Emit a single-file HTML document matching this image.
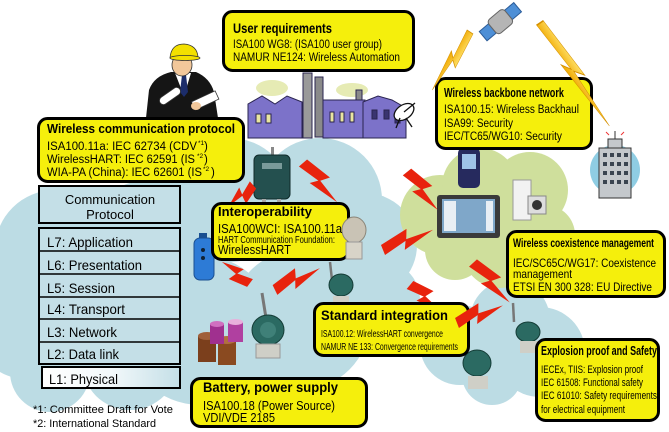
<!DOCTYPE html>
<html><head><meta charset="utf-8">
<style>html,body{margin:0;padding:0;background:#fff;}svg{display:block;}</style>
</head><body>
<svg width="669" height="432" viewBox="0 0 669 432" xmlns="http://www.w3.org/2000/svg" xmlns:xlink="http://www.w3.org/1999/xlink" font-family="'Liberation Sans', Arial, sans-serif">
<defs>
  <path id="bolt" d="M0,-4 L22,-8 L19,-1 L40,0 L15,6 L18,0 L0,4 Z"/>
  <linearGradient id="og" x1="0" y1="0" x2="0" y2="1">
    <stop offset="0" stop-color="#ffe066"/><stop offset="1" stop-color="#f0a800"/>
  </linearGradient>
  <linearGradient id="l1g" x1="0" y1="0" x2="1" y2="0">
    <stop offset="0" stop-color="#ffffff"/><stop offset="0.5" stop-color="#f2f8fa"/><stop offset="1" stop-color="#c4dfe7"/>
  </linearGradient>
</defs>
<rect width="669" height="432" fill="#fff"/>

<!-- big blue cloud -->
<g fill="#bcdce4">
  <circle cx="55" cy="250" r="60"/>
  <circle cx="30" cy="320" r="60"/>
  <circle cx="50" cy="372" r="40"/>
  <circle cx="150" cy="250" r="70"/>
  <circle cx="230" cy="200" r="62"/>
  <circle cx="320" cy="200" r="62"/>
  <circle cx="365" cy="245" r="52"/>
  <circle cx="380" cy="300" r="40"/>
  <circle cx="300" cy="320" r="70"/>
  <circle cx="200" cy="330" r="75"/>
  <circle cx="130" cy="362" r="48"/>
  <circle cx="250" cy="370" r="40"/>
</g>
<!-- small blue cloud -->
<g fill="#bcdce4">
  <circle cx="460" cy="345" r="40"/>
  <circle cx="510" cy="320" r="40"/>
  <circle cx="540" cy="352" r="45"/>
  <circle cx="492" cy="375" r="30"/>
</g>
<!-- green cloud -->
<g fill="#cfdf9c">
  <circle cx="440" cy="215" r="40"/>
  <circle cx="480" cy="186" r="38"/>
  <circle cx="530" cy="190" r="38"/>
  <circle cx="545" cy="235" r="30"/>
  <circle cx="500" cy="250" r="38"/>
  <circle cx="455" cy="250" r="30"/>
  <circle cx="490" cy="215" r="40"/>
</g>

<!-- factory -->
<g stroke="#2a2450" stroke-width="1">
  <ellipse cx="272" cy="88" rx="16" ry="8" fill="#e6ebb4" stroke="none"/>
  <ellipse cx="352" cy="90" rx="16" ry="7" fill="#e6ebb4" stroke="none"/>
  <rect x="303" y="73" width="9" height="65" fill="#9a9a9a"/>
  <rect x="315" y="77" width="8" height="60" fill="#8a8a8a"/>
  <rect x="356" y="90" width="6" height="30" fill="#8a8a8a"/>
  <polygon points="248,138 248,104 262,96 275,104 287,96 302,102 302,138" fill="#7c72c9"/>
  <rect x="323" y="100" width="42" height="38" fill="#7c72c9"/>
  <polygon points="363,138 363,102 378,96 392,100 406,108 406,138" fill="#7c72c9"/>
  <rect x="256" y="114" width="5" height="9" fill="#e9e6a0"/>
  <rect x="266" y="114" width="5" height="9" fill="#e9e6a0"/>
  <rect x="330" y="112" width="4" height="10" fill="#e9e6a0"/>
  <rect x="340" y="112" width="4" height="10" fill="#e9e6a0"/>
  <rect x="350" y="112" width="4" height="10" fill="#e9e6a0"/>
  <rect x="372" y="110" width="5" height="9" fill="#3a3470"/>
  <rect x="384" y="110" width="5" height="9" fill="#3a3470"/>
  <rect x="395" y="114" width="5" height="9" fill="#3a3470"/>
</g>
<!-- dish -->
<g stroke="#111" stroke-width="1.3" fill="#fff">
  <ellipse cx="404" cy="112" rx="11" ry="7" transform="rotate(-35 404 112)"/>
  <line x1="404" y1="112" x2="415" y2="103"/>
  <line x1="400" y1="118" x2="396" y2="128"/>
  <line x1="406" y1="118" x2="412" y2="127"/>
</g>

<!-- man -->
<g>
  <path d="M146,118 L149,90 Q154,76 171,72 L196,72 Q210,78 214,92 L218,118 Z" fill="#151515"/>
  <polygon points="175,73 191,73 184,96" fill="#fff"/>
  <polygon points="182,75 186,75 188,92 184,97 180,92" fill="#1c2d6b"/>
  <ellipse cx="182" cy="65" rx="10" ry="11" fill="#f2c79a" stroke="#333" stroke-width="0.8"/>
  <path d="M170,58 Q171,44 184,44 Q197,45 198,57 Z" fill="#f3e000" stroke="#333" stroke-width="0.8"/>
  <ellipse cx="185" cy="58" rx="15" ry="2.5" fill="#f3e000" stroke="#333" stroke-width="0.8"/>
  <rect x="158" y="92" width="24" height="8" rx="4" fill="#fff" stroke="#333" stroke-width="0.8" transform="rotate(-35 170 96)"/>
  <rect x="192" y="96" width="26" height="9" fill="#fff" stroke="#333" stroke-width="0.8" transform="rotate(-25 205 100)"/>
  <ellipse cx="196" cy="106" rx="5" ry="4" fill="#f2c79a"/>
</g>

<!-- satellite -->
<g transform="rotate(-40 500 22)">
  <rect x="478" y="16" width="12" height="12" fill="#4e8fd6" stroke="#2b5c99"/>
  <rect x="511" y="16" width="12" height="12" fill="#4e8fd6" stroke="#2b5c99"/>
  <rect x="490" y="13" width="21" height="18" rx="4" fill="#b5b5b5" stroke="#666"/>
</g>

<!-- building -->
<g>
  <circle cx="615" cy="170" r="25" fill="#8fcde3"/>
  <rect x="608" y="139" width="14" height="10" fill="#c4c8cc" stroke="#333"/>
  <rect x="599" y="148" width="32" height="50" fill="#c4c8cc" stroke="#333"/>
  <line x1="615" y1="131" x2="615" y2="139" stroke="#333"/>
  <g fill="#3a4450">
    <rect x="603" y="153" width="4" height="4"/><rect x="610" y="153" width="4" height="4"/><rect x="617" y="153" width="4" height="4"/><rect x="624" y="153" width="4" height="4"/>
    <rect x="603" y="162" width="4" height="4"/><rect x="610" y="162" width="4" height="4"/><rect x="617" y="162" width="4" height="4"/><rect x="624" y="162" width="4" height="4"/>
    <rect x="603" y="171" width="4" height="4"/><rect x="610" y="171" width="4" height="4"/><rect x="617" y="171" width="4" height="4"/><rect x="624" y="171" width="4" height="4"/>
    <rect x="603" y="180" width="4" height="4"/><rect x="610" y="180" width="4" height="4"/><rect x="617" y="180" width="4" height="4"/><rect x="624" y="180" width="4" height="4"/>
  </g>
  <g stroke="#e33" stroke-width="1"><line x1="606" y1="132" x2="609" y2="135"/><line x1="624" y1="132" x2="621" y2="135"/></g>
</g>

<!-- devices -->
<g>
  <rect x="271" y="147" width="3" height="9" fill="#888"/>
  <rect x="254" y="155" width="36" height="44" rx="5" fill="#24504f" stroke="#0f2a2a"/>
  <rect x="262" y="163" width="20" height="6" fill="#7a9a9a"/>
  <rect x="262" y="199" width="4" height="8" fill="#aaa"/>
  <rect x="277" y="199" width="4" height="8" fill="#aaa"/>
  <rect x="199" y="233" width="8" height="7" fill="#1a4f90"/>
  <rect x="194" y="238" width="20" height="42" rx="6" fill="#2d7bd6" stroke="#1a4f90"/>
  <circle cx="203" cy="250" r="2" fill="#123"/><circle cx="203" cy="258" r="2" fill="#123"/>
  <rect x="458" y="148" width="22" height="40" rx="5" fill="#262a5e"/>
  <rect x="462" y="154" width="14" height="15" fill="#9fc3e8"/>
  <rect x="437" y="195" width="63" height="43" rx="3" fill="#3a3a3a"/>
  <rect x="442" y="199" width="53" height="34" fill="#7fa7c9"/>
  <rect x="444" y="201" width="12" height="30" fill="#e8eef4"/>
  <rect x="486" y="201" width="7" height="30" fill="#e8eef4"/>
  <rect x="513" y="180" width="18" height="40" fill="#f2f2f2" stroke="#999"/>
  <rect x="528" y="196" width="18" height="18" fill="#ddd" stroke="#888"/>
  <circle cx="537" cy="205" r="5" fill="#333"/>
  <rect x="198" y="336" width="18" height="26" fill="#7b3f1c"/>
  <ellipse cx="207" cy="336" rx="9" ry="4" fill="#a0603a"/>
  <rect x="218" y="340" width="18" height="25" fill="#8a4a20"/>
  <ellipse cx="227" cy="340" rx="9" ry="4" fill="#b07040"/>
  <rect x="210" y="324" width="14" height="20" fill="#a0308f"/>
  <ellipse cx="217" cy="324" rx="7" ry="3" fill="#d070c0"/>
  <rect x="228" y="322" width="15" height="20" fill="#b040a0"/>
  <ellipse cx="235.5" cy="322" rx="7.5" ry="3" fill="#e8b0dc"/>
  <line x1="262" y1="293" x2="266" y2="318" stroke="#777" stroke-width="3"/>
  <ellipse cx="268" cy="330" rx="16" ry="15" fill="#2b6a62" stroke="#143c36"/>
  <circle cx="268" cy="330" r="8" fill="#3f8078"/>
  <rect x="256" y="344" width="24" height="14" fill="#cfcfc7" stroke="#999"/>
  <line x1="330" y1="262" x2="332" y2="280" stroke="#777" stroke-width="2.5"/>
  <ellipse cx="341" cy="285" rx="12" ry="11" fill="#2b6a62" stroke="#143c36"/>
  <rect x="333" y="296" width="16" height="10" fill="#cfcfc7"/>
  <line x1="463" y1="332" x2="465" y2="356" stroke="#777" stroke-width="2.5"/>
  <ellipse cx="477" cy="363" rx="14" ry="13" fill="#2b6a62" stroke="#143c36"/>
  <rect x="468" y="376" width="20" height="13" fill="#cfcfc7"/>
  <line x1="513" y1="303" x2="514" y2="322" stroke="#777" stroke-width="2.5"/>
  <ellipse cx="528" cy="332" rx="12" ry="10" fill="#2b6a62" stroke="#143c36"/>
  <rect x="520" y="341" width="18" height="12" fill="#cfcfc7"/>
</g>

<!-- red bolts (behind boxes) -->
<g fill="#e8230d">
  <use xlink:href="#bolt" href="#bolt" transform="translate(253,185) rotate(139) scale(0.8,1.2)"/>
  <use xlink:href="#bolt" href="#bolt" transform="translate(303,163) rotate(49) scale(1.3,1.35)"/>
  <use xlink:href="#bolt" href="#bolt" transform="translate(250,283) rotate(217) scale(0.88,1.2)"/>
  <use xlink:href="#bolt" href="#bolt" transform="translate(275,290) rotate(-26) scale(1.25,1.35)"/>
  <use xlink:href="#bolt" href="#bolt" transform="translate(407,172) rotate(51) scale(1.22,1.35)"/>
  <use xlink:href="#bolt" href="#bolt" transform="translate(383,250) rotate(-22) scale(1.35,1.35)"/>
  <use xlink:href="#bolt" href="#bolt" transform="translate(473,263) rotate(47) scale(1.35,1.35)"/>
  <use xlink:href="#bolt" href="#bolt" transform="translate(410,285) rotate(40) scale(1,1.3)"/>
</g>

<!-- yellow boxes -->
<g fill="#f5ef0c" stroke="#000" stroke-width="3">
  <rect x="223.5" y="11.5" width="190" height="59" rx="9"/>
  <rect x="38.5" y="118.5" width="205" height="63" rx="9"/>
  <rect x="436.5" y="78.5" width="155" height="70" rx="9"/>
  <rect x="212.5" y="203.5" width="136" height="56" rx="9"/>
  <rect x="314.5" y="303.5" width="154" height="52" rx="9"/>
  <rect x="191.5" y="378.5" width="175" height="48" rx="9"/>
  <rect x="507.5" y="231.5" width="157" height="65" rx="9"/>
  <rect x="536.5" y="339.5" width="122" height="81" rx="9"/>
</g>

<g>
  <ellipse cx="354" cy="230" rx="12" ry="13" fill="#c9c3b5" stroke="#8a8578"/>
  <rect x="346" y="242" width="16" height="17" fill="#d8d4c8" stroke="#999"/>
</g>

<use xlink:href="#bolt" href="#bolt" fill="#e8230d" transform="translate(457,323) rotate(-21) scale(1.23,1.35)"/>
<use xlink:href="#bolt" href="#bolt" fill="url(#og)" stroke="#d49000" stroke-width="0.5" transform="translate(470,32) rotate(123) scale(1.73,0.9)"/>
<use xlink:href="#bolt" href="#bolt" fill="url(#og)" stroke="#d49000" stroke-width="0.5" transform="translate(540,23) rotate(56) scale(3.1,1.0)"/>

<!-- OSI table -->
<g stroke="#000" stroke-width="2">
  <rect x="39" y="186" width="141" height="37" fill="#c4dfe7"/>
  <rect x="39" y="228" width="141" height="136" fill="#c4dfe7"/>
  <line x1="39" y1="251" x2="180" y2="251" stroke-width="1.5"/>
  <line x1="39" y1="274" x2="180" y2="274" stroke-width="1.5"/>
  <line x1="39" y1="297" x2="180" y2="297" stroke-width="1.5"/>
  <line x1="39" y1="319" x2="180" y2="319" stroke-width="1.5"/>
  <line x1="39" y1="342" x2="180" y2="342" stroke-width="1.5"/>
  <rect x="42" y="367" width="138" height="21" fill="url(#l1g)"/>
</g>

<!-- texts -->
<g fill="#000">
  <text x="233" y="33" font-size="14" font-weight="bold" textLength="99" lengthAdjust="spacingAndGlyphs">User requirements</text>
  <text x="233" y="48" font-size="11.5" textLength="149" lengthAdjust="spacingAndGlyphs">ISA100 WG8: (ISA100 user group)</text>
  <text x="233" y="61" font-size="11.5" textLength="167" lengthAdjust="spacingAndGlyphs">NAMUR NE124: Wireless Automation</text>

  <text x="47" y="133" font-size="13" font-weight="bold" textLength="188" lengthAdjust="spacingAndGlyphs">Wireless communication protocol</text>
  <text x="47" y="150" font-size="11.5" textLength="150" lengthAdjust="spacingAndGlyphs">ISA100.11a: IEC 62734 (CDV</text>
  <text x="198" y="145" font-size="6.5">*1</text>
  <text x="204" y="150" font-size="11.5">)</text>
  <text x="47" y="163" font-size="11.5" textLength="148" lengthAdjust="spacingAndGlyphs">WirelessHART: IEC 62591 (IS</text>
  <text x="197" y="158" font-size="6.5">*2</text>
  <text x="204" y="163" font-size="11.5">)</text>
  <text x="47" y="176" font-size="11.5" textLength="155" lengthAdjust="spacingAndGlyphs">WIA-PA (China): IEC 62601 (IS</text>
  <text x="203" y="171" font-size="6.5">*2</text>
  <text x="211" y="176" font-size="11.5">)</text>

  <text x="444" y="97" font-size="13" font-weight="bold" textLength="120" lengthAdjust="spacingAndGlyphs">Wireless backbone network</text>
  <text x="444" y="113" font-size="11.5" textLength="135" lengthAdjust="spacingAndGlyphs">ISA100.15: Wireless Backhaul</text>
  <text x="444" y="127" font-size="11.5" textLength="69" lengthAdjust="spacingAndGlyphs">ISA99: Security</text>
  <text x="444" y="140" font-size="11.5" textLength="118" lengthAdjust="spacingAndGlyphs">IEC/TC65/WG10: Security</text>

  <text x="110" y="204" font-size="13" text-anchor="middle">Communication</text>
  <text x="110" y="219" font-size="13" text-anchor="middle">Protocol</text>
  <text x="47" y="247" font-size="14" textLength="86" lengthAdjust="spacingAndGlyphs">L7: Application</text>
  <text x="47" y="270" font-size="14" textLength="95" lengthAdjust="spacingAndGlyphs">L6: Presentation</text>
  <text x="47" y="293" font-size="14" textLength="68" lengthAdjust="spacingAndGlyphs">L5: Session</text>
  <text x="47" y="314" font-size="14" textLength="78" lengthAdjust="spacingAndGlyphs">L4: Transport</text>
  <text x="47" y="337" font-size="14" textLength="70" lengthAdjust="spacingAndGlyphs">L3: Network</text>
  <text x="47" y="359" font-size="14" textLength="72" lengthAdjust="spacingAndGlyphs">L2: Data link</text>
  <text x="49" y="384" font-size="14" textLength="69" lengthAdjust="spacingAndGlyphs">L1: Physical</text>

  <text x="33" y="413" font-size="11" textLength="140" lengthAdjust="spacingAndGlyphs">*1: Committee Draft for Vote</text>
  <text x="33" y="427" font-size="11" textLength="123" lengthAdjust="spacingAndGlyphs">*2: International Standard</text>

  <text x="218" y="216" font-size="13" font-weight="bold" textLength="94" lengthAdjust="spacingAndGlyphs">Interoperability</text>
  <text x="218" y="233" font-size="12.5" textLength="124" lengthAdjust="spacingAndGlyphs">ISA100WCI: ISA100.11a</text>
  <text x="218" y="243" font-size="10" textLength="117" lengthAdjust="spacingAndGlyphs">HART Communication Foundation:</text>
  <text x="218" y="254" font-size="13" textLength="73" lengthAdjust="spacingAndGlyphs">WirelessHART</text>

  <text x="321" y="320" font-size="14" font-weight="bold" textLength="127" lengthAdjust="spacingAndGlyphs">Standard integration</text>
  <text x="321" y="337" font-size="10" textLength="122" lengthAdjust="spacingAndGlyphs">ISA100.12: WirelessHART convergence</text>
  <text x="321" y="350" font-size="10" textLength="137" lengthAdjust="spacingAndGlyphs">NAMUR NE 133: Convergence requirements</text>

  <text x="203" y="392" font-size="14" font-weight="bold" textLength="135" lengthAdjust="spacingAndGlyphs">Battery, power supply</text>
  <text x="203" y="410" font-size="12.5" textLength="132" lengthAdjust="spacingAndGlyphs">ISA100.18 (Power Source)</text>
  <text x="203" y="422" font-size="12.5" textLength="72" lengthAdjust="spacingAndGlyphs">VDI/VDE 2185</text>

  <text x="513" y="247" font-size="12" font-weight="bold" textLength="141" lengthAdjust="spacingAndGlyphs">Wireless coexistence management</text>
  <text x="513" y="267" font-size="12" textLength="143" lengthAdjust="spacingAndGlyphs">IEC/SC65C/WG17: Coexistence</text>
  <text x="513" y="278" font-size="12" textLength="59" lengthAdjust="spacingAndGlyphs">management</text>
  <text x="513" y="291" font-size="12" textLength="139" lengthAdjust="spacingAndGlyphs">ETSI EN 300 328: EU Directive</text>

  <text x="541" y="355" font-size="12.5" font-weight="bold" textLength="116" lengthAdjust="spacingAndGlyphs">Explosion proof and Safety</text>
  <text x="541" y="373" font-size="11" textLength="102" lengthAdjust="spacingAndGlyphs">IECEx, TIIS: Explosion proof</text>
  <text x="541" y="386" font-size="11" textLength="102" lengthAdjust="spacingAndGlyphs">IEC 61508: Functional safety</text>
  <text x="541" y="399" font-size="11" textLength="116" lengthAdjust="spacingAndGlyphs">IEC 61010: Safety requirements</text>
  <text x="541" y="413" font-size="11" textLength="84" lengthAdjust="spacingAndGlyphs">for electrical equipment</text>
</g>
</svg>
</body></html>
